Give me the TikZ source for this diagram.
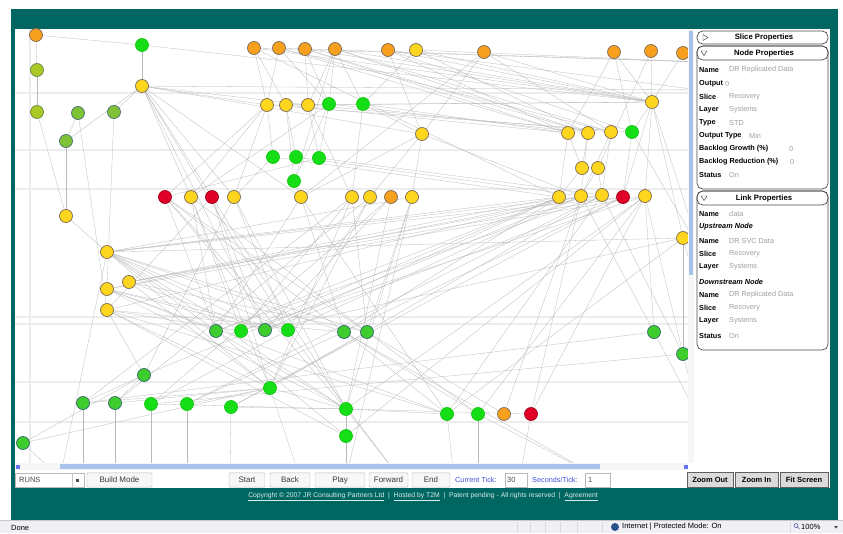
\documentclass[tikz,border=0pt]{standalone}
\usepackage{fontspec}
\setmainfont{Liberation Sans}
\usetikzlibrary{positioning}

\definecolor{frameteal}{RGB}{0,102,97}
\definecolor{nodeorange}{RGB}{247,160,30}
\definecolor{nodeyellow}{RGB}{255,214,30}
\definecolor{nodered}{RGB}{225,0,40}
\definecolor{nodegreen}{RGB}{22,222,22}
\definecolor{nodemoss}{RGB}{62,205,45}
\definecolor{nodeolive}{RGB}{172,200,36}
\definecolor{nodeleaf}{RGB}{128,194,54}
\definecolor{rimgray}{RGB}{128,108,88}
\definecolor{rimteal}{RGB}{52,104,114}
\definecolor{thumbblue}{RGB}{168,195,235}
\definecolor{ticktext}{RGB}{70,80,220}
\definecolor{statusbg}{RGB}{238,240,243}
\definecolor{footlink}{RGB}{215,238,235}

\pgfdeclarelayer{bg}
\pgfdeclarelayer{links}
\pgfsetlayers{bg,links,main}

\begin{document}
\begin{tikzpicture}[
  x=0.03cm, y=-0.03cm,
  dot/.style={circle, inner sep=0pt, minimum size=0.39cm, line width=0.6pt},
  orangedot/.style={dot, fill=nodeorange, draw=rimgray},
  yellowdot/.style={dot, fill=nodeyellow, draw=rimgray},
  reddot/.style={dot, fill=nodered, draw=nodered!70!black},
  greendot/.style={dot, fill=nodegreen, draw=nodegreen!90!black},
  tealdot/.style={dot, fill=nodemoss, draw=rimteal},
  olivedot/.style={dot, fill=nodeolive, draw=rimgray!80!green},
  leafdot/.style={dot, fill=nodeleaf, draw=rimteal!70!gray},
  link/.style={draw=gray!55, line width=0.25pt},
  gridline/.style={draw=gray!14, line width=0.9pt},
  panelbox/.style={draw=gray!60!black, line width=0.6pt, rounded corners=0.17cm},
  headtext/.style={font=\fontsize{6.6}{8}\selectfont\bfseries},
  proplabel/.style={anchor=west, inner sep=0pt, font=\fontsize{6.2}{7}\selectfont\bfseries},
  propvalue/.style={anchor=west, inner sep=0pt, text=gray!75, font=\fontsize{6.2}{7}\selectfont},
  toolbtn/.style={draw=gray!55, fill=gray!6, rounded corners=1pt, minimum height=0.43cm,
    inner sep=0pt, text=gray!45!black, font=\fontsize{6.8}{8}\selectfont},
  zoombtn/.style={draw=gray!75!black, fill=gray!28, minimum height=0.45cm,
    inner sep=0pt, font=\fontsize{6.4}{8}\selectfont\bfseries},
  fieldbox/.style={draw=gray!55, fill=white, minimum height=0.42cm, inner sep=0pt},
  ticklabel/.style={anchor=west, inner sep=0pt, text=ticktext, font=\fontsize{6.2}{7}\selectfont},
  smalltext/.style={anchor=west, inner sep=0pt, font=\fontsize{6.4}{7}\selectfont}
]
\useasboundingbox (0,0) rectangle (843,533);

% frame, canvas and band lines
\begin{pgfonlayer}{bg}
  \fill[white] (0,0) rectangle (843,533);
  \fill[frameteal] (11,9) rectangle (838,520);
  \fill[white] (15,29) rectangle (830,488);
  \foreach \gy in {93,150,189,317,324,382,422}
    \draw[gridline] (15,\gy) -- (688,\gy);
  \draw[gridline] (30,29) -- (30,463);
  \fill[statusbg] (0,520) rectangle (843,533);
  \draw[gray!45] (0,520.5) -- (843,520.5);
\end{pgfonlayer}

% graph nodes
\foreach \n/\x/\y in {o1/36/35, o2/254/48, o3/279/48, o4/305/49, o5/335/49, o6/388/50,
    o7/484/52, o8/614/52, o9/651/51, o10/683/53, o11/391/197, o12/504/414}
  \node[orangedot] (\n) at (\x,\y) {};
\foreach \n/\x/\y in {y1/416/50, y2/142/86, y3/267/105, y4/286/105, y5/308/105, y6/422/134,
    y7/652/102, y8/568/133, y9/588/133, y10/611/132, y11/582/168, y12/598/168,
    y13/191/197, y14/234/197, y15/301/197, y16/352/197, y17/370/197, y18/412/197,
    y19/559/197, y20/581/196, y21/602/195, y22/645/196, y23/66/216, y24/107/252,
    y25/107/289, y26/129/282, y27/107/310, y28/683/238}
  \node[yellowdot] (\n) at (\x,\y) {};
\foreach \n/\x/\y in {r1/165/197, r2/212/197, r3/623/197, r4/531/414}
  \node[reddot] (\n) at (\x,\y) {};
\foreach \n/\x/\y in {g1/142/45, g2/329/104, g3/363/104, g4/273/157, g5/296/157, g6/319/158,
    g7/294/181, g8/632/132, g9/241/331, g10/288/330, g11/270/388, g12/151/404,
    g13/187/404, g14/231/407, g15/346/409, g16/346/436, g17/447/414, g18/478/414}
  \node[greendot] (\n) at (\x,\y) {};
\foreach \n/\x/\y in {d1/216/331, d2/265/330, d3/344/332, d4/367/332, d5/144/375,
    d6/83/403, d7/115/403, d8/23/443, d9/654/332, d10/683/354}
  \node[tealdot] (\n) at (\x,\y) {};
\foreach \n/\x/\y in {l1/37/70, l2/37/112}
  \node[olivedot] (\n) at (\x,\y) {};
\foreach \n/\x/\y in {l3/78/113, l4/114/112, l5/66/141}
  \node[leafdot] (\n) at (\x,\y) {};

% ends of links that leave the canvas
\foreach \n/\x/\y in {e1/60/478, e2/83/478, e3/115/478, e4/151/478, e5/187/478,
    e6/346/478, e7/454/478, e8/478/478, e9/300/478, e10/230/478, e11/520/478,
    e12/400/478, e13/600/478, e14/700/62, e15/700/90, e16/700/250, e17/700/300, e18/700/420}
  \coordinate (\n) at (\x,\y);

\begin{pgfonlayer}{links}
\begin{scope}
  \clip (15,29) rectangle (688,463);
  \foreach \a/\b in {o1/g1, o1/l1, l1/l2, l2/y23, g1/y2, y2/l5, y2/l4, l5/y23, l3/y27,
      l4/y25, y23/y24, l5/l3, g1/y7,
      y2/y3, y2/y5, y2/y6, y2/y13, y2/y14, y2/y15, y2/r2, y2/d2, y2/g10, y2/e15,
      o2/y3, o2/y4, o2/y7, o2/y19, o2/e14, o3/y3, o3/g2, o3/y10, o3/y8, o3/e14,
      o4/y5, o4/g2, o4/y7, o4/y8, o4/y9, o5/y5, o5/g2, o5/y7, o5/y9, o5/y10, o5/g3,
      o5/g7, o6/y6, o6/y8, o6/y7, o6/g8, o6/e15, y1/g3, y1/y7, y1/y9, y1/e14,
      o7/y10, o7/y6, o7/y15, o7/y7, o8/y8, o8/g8, o8/y7, o9/y7, o9/y12, o10/y7,
      y7/y22, y7/y28, y7/g8, y7/y3, y7/y4, y7/r3, y7/e16,
      y8/y19, y8/y11, y9/y11, y9/y20, y10/y20, y11/y19, y12/y20, g8/r3, y10/y21,
      y12/y21, y8/y4, y9/g2, y10/y5, g8/y3, g8/e16,
      y3/g4, y4/g5, y5/g6, g2/g6, g2/g7, g2/y13, g3/y6, y3/r1, y3/y13, y5/y16,
      y4/g7, y6/y18, y6/y17, g3/y8, g4/y19, g5/y20, g6/y21, g7/y15, g4/y14, g6/r1,
      y6/y20, y6/y15, g3/y16, y3/y14,
      r1/d1, r1/g10, r1/d3, r1/g15, r1/d4, r2/d2, r2/g11, r2/g15, r2/y27, y13/d1,
      y13/g9, y13/d4, y13/g11, y14/g10, y14/d5, y14/g15, y15/g17, y15/d3, y15/d1,
      y16/g9, y16/d6, y16/g11, y17/g11, y17/g10, y17/d7, y18/d4, y18/g15, y18/e6,
      y18/y24, y19/y24, y19/d1, y19/g9, y19/d2, y19/d3, y19/y26, y20/y27, y20/g10,
      y20/d5, y20/y25, y21/g11, y21/g13, y21/d1, y21/y24, r3/y26, r3/g14, r3/d3,
      r3/y24, r3/d2, y22/g15, y22/g16, y22/d9, y22/y25, y22/g9, y22/d10, o11/g15,
      o11/d2, o11/g12, y16/d4,
      y24/d1, y24/g9, y24/d2, y24/g10, y24/d3, y24/y28, y24/g15, y24/d4, y24/g11,
      y25/d1, y25/g10, y25/g15, y25/d2, y25/g17, y26/d2, y26/d4, y26/g11, y26/y21,
      y27/g9, y27/d5, y27/d3, y27/g17, y27/g11, y27/g16, y28/d2, y28/g17, y28/d10,
      d5/d6, d5/d7, d6/g11, d7/g11, g12/g15, g13/g11, g11/g15, g15/g16, g15/g17,
      g15/r4, d8/g11, d8/d5, g14/g15, g12/g10, g13/d3, g14/d4, d9/d6, d10/g12,
      d9/y20, d10/y21, g15/d1, g17/d3, g18/d4, g18/d3, o12/d4, r4/y20, g17/y21,
      g18/y22, r4/y22, o12/y20, g16/d1,
      d8/e1, d6/e2, d7/e3, g12/e4, g13/e5, g16/e6, g17/e7, g18/e8, r4/e11, g11/e9,
      g10/e12, g15/e12, d3/e13, g18/e13, d9/e18, d10/e18, y24/e1, g14/e10, y28/e17}
    \draw[link] (\a) -- (\b);
\end{scope}
\end{pgfonlayer}

% scroll bars
\fill[gray!7] (688,29) rectangle (694,463);
\fill[thumbblue] (688.7,31) rectangle (693.3,275);
\fill[gray!7] (15,463) rectangle (688,470);
\fill[thumbblue] (60,464) rectangle (600,469);
\fill[thumbblue!60!blue] (16,464.5) rectangle (20,468.5);
\fill[thumbblue!60!blue] (684,465) rectangle (688,469);
\fill[white] (694,29) rectangle (830,470);

% property panel
\draw[panelbox] (697,31) rectangle (828,44);
\draw[gray!60!black] (703,34.5) -- (708,37.5) -- (703,40.5) -- cycle;
\node[headtext] (slicehead) at (764,37.5) {Slice Properties};

\draw[panelbox] (697,46) rectangle (828,189);
\draw[panelbox] (697,46) rectangle (828,60);
\draw[gray!60!black] (701,51) -- (707,51) -- (704,55.5) -- cycle;
\node[headtext] (nodehead) at (764,53) {Node Properties};
\foreach \i/\yy/\lab/\val/\vx in {1/70/Name/DR Replicated Data/729, 2/84/Output/0/725,
    3/97/Slice/Recovery/729, 4/110/Layer/Systems/729, 5/123/Type/STD/729,
    6/136/Output Type/Min/749, 7/149/Backlog Growth (\%)/0/789,
    8/162/Backlog Reduction (\%)/0/790, 9/175/Status/On/729} {
  \node[proplabel] (nlab\i) at (699,\yy) {\lab};
  \node[propvalue] (nval\i) at (\vx,\yy) {\val};
}

\draw[panelbox] (697,191) rectangle (828,350);
\draw[panelbox] (697,191) rectangle (828,205);
\draw[gray!60!black] (701,196) -- (707,196) -- (704,200.5) -- cycle;
\node[headtext] (linkhead) at (764,198) {Link Properties};
\foreach \i/\yy/\lab/\val in {1/214/Name/data, 3/241/Name/DR SVC Data, 4/254/Slice/Recovery,
    5/267/Layer/Systems, 7/295/Name/DR Replicated Data, 8/308/Slice/Recovery,
    9/321/Layer/Systems, 10/336/Status/On} {
  \node[proplabel] (llab\i) at (699,\yy) {\lab};
  \node[propvalue] (lval\i) at (729,\yy) {\val};
}
\node[proplabel, font=\fontsize{6.2}{7}\selectfont\bfseries\itshape] (upnode) at (699,227) {Upstream Node};
\node[proplabel, font=\fontsize{6.2}{7}\selectfont\bfseries\itshape] (downnode) at (699,282) {Downstream Node};

% tool bar
\node[fieldbox, minimum width=2.07cm, anchor=west] (runsbox) at (15,480) {};
\draw[gray!45] (72,473) -- (72,487);
\node[smalltext, text=gray!55!black] (runstext) at (19,480) {RUNS};
\fill[black!70] (76,479) rectangle (78.5,481.5);
\foreach \n/\cx/\w/\t in {bbuild/119.5/65/Build Mode, bstart/247/36/Start, bback/290/40/Back,
    bplay/340/50/Play, bforward/388.5/39/Forward, bfinish/431/38/End}
  \node[toolbtn, minimum width=\w*0.03cm] (\n) at (\cx,480) {\t};
\node[ticklabel] (curtick) at (455,480) {Current Tick:};
\node[fieldbox, minimum width=0.66cm] (tickbox) at (516,480) {};
\node[smalltext, text=gray!60!black] (tickval) at (507,480) {30};
\node[ticklabel] (sectick) at (532,480) {Seconds/Tick:};
\node[fieldbox, minimum width=0.75cm] (secbox) at (597.5,480) {};
\node[smalltext, text=gray!60!black] (secval) at (588,480) {1};
\foreach \n/\cx/\w/\t in {bzoomout/710/46/Zoom Out, bzoomin/756.5/43/Zoom In, bfit/804/48/Fit Screen}
  \node[zoombtn, minimum width=\w*0.03cm] (\n) at (\cx,480) {\t};

% footer
\node[inner sep=0pt, text=footlink, font=\fontsize{5.8}{6}\selectfont] (footer) at (423,497)
  {\underline{Copyright © 2007 JR Consulting Partners Ltd}\ \ |\ \ \underline{Hosted by T2M}\ \ |\ \ Patent pending - All rights reserved\ \ |\ \ \underline{Agreement}};

% status bar
\node[smalltext] (done) at (11,528) {Done};
\foreach \sx in {517,530,545,560,577,602,790}
  \draw[gray!30] (\sx,522) -- (\sx,533);
\fill[rimteal!80!blue] (615,527) circle (4);
\node[smalltext] (zone) at (622,527) {Internet | Protected Mode: On};
\draw[gray!70!blue, line width=0.5pt] (796,525.5) circle (2) (797.5,527) -- (799.5,529);
\node[smalltext] (zoomlvl) at (801,527) {100\%};
\fill[black!70] (834,526) -- (838,526) -- (836,528.5) -- cycle;
\end{tikzpicture}
\end{document}
